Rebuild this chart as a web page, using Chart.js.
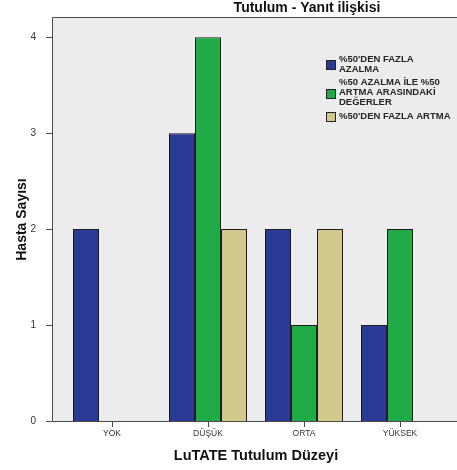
<!DOCTYPE html>
<html>
<head>
<meta charset="utf-8">
<script src="https://cdn.jsdelivr.net/npm/chart.js@4"></script>
<style>
  html, body { margin: 0; padding: 0; background: #fff; }
  #wrap { width: 457px; height: 470px; }
</style>
</head>
<body>
<div id="wrap"><canvas id="chart" width="457" height="470"></canvas></div>
<script>
const chartTitle = "Tutulum - Yanıt ilişkisi";
const categories = ["YOK", "DÜŞÜK", "ORTA", "YÜKSEK"];
const seriesNames = [
  ["%50'DEN FAZLA", "AZALMA"],
  ["%50 AZALMA İLE %50", "ARTMA ARASINDAKİ", "DEĞERLER"],
  ["%50'DEN FAZLA ARTMA"]
];
const seriesColors = ["#2b3a95", "#21ab48", "#d1c88c"];
const azalma = [2, 3, 2, 1];
const arasinda = [null, 4, 1, 2];
const artma = [null, 2, 2, null];
const yTicks = [0, 1, 2, 3, 4];

// arka plan, eksen çizgileri, başlık ve lejant
const frame = {
  id: "frame",
  beforeDraw(chart) {
    const { ctx, chartArea: a, scales } = chart;
    const x0 = a.left - 12;
    ctx.save();
    ctx.fillStyle = "#fff";
    ctx.fillRect(0, 0, chart.width, chart.height);
    ctx.fillStyle = "#ececec";
    ctx.fillRect(x0, a.top, chart.width - x0, a.bottom - a.top);
    ctx.strokeStyle = "#4a4a4a";
    ctx.lineWidth = 1;
    ctx.beginPath();
    ctx.moveTo(chart.width, a.top - 0.5);
    ctx.lineTo(x0 + 0.5, a.top - 0.5);
    ctx.lineTo(x0 + 0.5, a.bottom + 0.5);
    ctx.lineTo(chart.width, a.bottom + 0.5);
    yTicks.forEach((v) => {
      const py = Math.round(scales.y.getPixelForValue(v)) + 0.5;
      ctx.moveTo(x0 - 6, py);
      ctx.lineTo(x0, py);
    });
    ctx.stroke();
    ctx.restore();
  },
  afterDraw(chart) {
    const { ctx } = chart;
    ctx.save();
    ctx.fillStyle = "#111";
    ctx.font = "bold 14px Arial, 'Liberation Sans', sans-serif";
    ctx.textAlign = "center";
    ctx.textBaseline = "alphabetic";
    ctx.fillText(chartTitle, 307, 12);

    ctx.font = "bold 9.5px Arial, 'Liberation Sans', sans-serif";
    ctx.textAlign = "left";
    ctx.textBaseline = "middle";
    let y = 59;
    seriesNames.forEach((lines, i) => {
      const mid = Math.round(y + (lines.length - 1) * 10 / 2 + 1);
      ctx.fillStyle = seriesColors[i];
      ctx.fillRect(326, mid - 5, 10, 10);
      ctx.strokeStyle = "#222";
      ctx.strokeRect(326.5, mid - 4.5, 9, 9);
      ctx.fillStyle = "#262626";
      lines.forEach((t, j) => ctx.fillText(t, 339, y + j * 10));
      y += (lines.length - 1) * 10 + 13.5;
    });
    ctx.restore();
  }
};

const ctx = document.getElementById("chart").getContext("2d");
new Chart(ctx, {
  type: "bar",
  data: {
    labels: categories,
    datasets: [
      { label: seriesNames[0].join(" "), data: azalma, backgroundColor: seriesColors[0] },
      { label: seriesNames[1].join(" "), data: arasinda, backgroundColor: seriesColors[1] },
      { label: seriesNames[2].join(" "), data: artma, backgroundColor: seriesColors[2] }
    ].map((d) => ({
      ...d,
      borderColor: "#1c1c1c",
      borderWidth: 1,
      categoryPercentage: 0.8125,
      barPercentage: 1
    }))
  },
  options: {
    responsive: false,
    animation: false,
    layout: { padding: { top: 18, right: 9, bottom: 0, left: 0 } },
    plugins: {
      legend: { display: false },
      tooltip: { enabled: false }
    },
    scales: {
      x: {
        afterFit: (s) => { s.height = 49; },
        grid: { display: true, drawOnChartArea: false, offset: false, tickLength: 6, color: "#4a4a4a" },
        border: { display: false },
        ticks: { color: "#333", padding: 2, font: { family: "Arial, 'Liberation Sans', sans-serif", size: 8.5 } },
        title: {
          display: true,
          text: "LuTATE Tutulum Düzeyi",
          color: "#111",
          padding: { top: 0, bottom: 5 },
          font: { family: "Arial, 'Liberation Sans', sans-serif", size: 14.5, weight: "bold" }
        }
      },
      y: {
        min: 0,
        max: 4.2,
        afterFit: (s) => { s.width = 64; s.paddingTop = 0; s.paddingBottom = 0; },
        afterBuildTicks: (s) => { s.ticks = yTicks.map((v) => ({ value: v })); },
        grid: { display: false },
        border: { display: false },
        ticks: { color: "#333", padding: 20, font: { family: "Arial, 'Liberation Sans', sans-serif", size: 10 } },
        title: {
          display: true,
          text: "Hasta Sayısı",
          color: "#111",
          padding: { top: 14, bottom: 0 },
          font: { family: "Arial, 'Liberation Sans', sans-serif", size: 14, weight: "bold" }
        }
      }
    }
  },
  plugins: [frame]
});
</script>
</body>
</html>
